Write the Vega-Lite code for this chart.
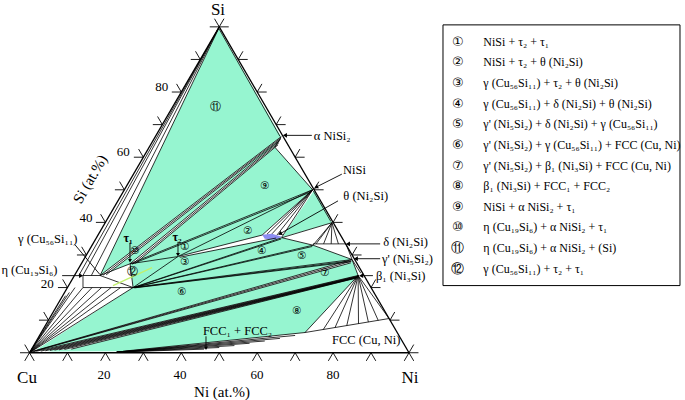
{
"$schema": "https://vega.github.io/schema/vega-lite/v6.json",
"width": 685, "height": 400, "padding": 0,
"autosize": {"type": "fit", "contains": "padding"},
"config": {"view": {"stroke": null}},
"datasets": {
"poly": [
{"id":"top","t":"g","k":0,"x":49.9,"y":99.6},{"id":"top","t":"g","k":1,"x":66.3,"y":66.3},{"id":"top","t":"g","k":2,"x":64.7,"y":63.0},{"id":"top","t":"g","k":3,"x":74.6,"y":50.0},{"id":"top","t":"g","k":4,"x":26.5,"y":27.3},{"id":"top","t":"g","k":5,"x":18.6,"y":23.7},
{"id":"mid","t":"g","k":0,"x":26.5,"y":27.3},{"id":"mid","t":"g","k":1,"x":74.6,"y":50.0},{"id":"mid","t":"g","k":2,"x":61.3,"y":36.1},{"id":"mid","t":"g","k":3,"x":66.5,"y":35.3},{"id":"mid","t":"g","k":4,"x":74.7,"y":33.0},{"id":"mid","t":"g","k":5,"x":85.0,"y":28.6},{"id":"mid","t":"g","k":6,"x":27.3,"y":20.0},
{"id":"ntri","t":"g","k":0,"x":75.0,"y":49.8},{"id":"ntri","t":"g","k":1,"x":66.5,"y":35.4},{"id":"ntri","t":"g","k":2,"x":79.7,"y":39.9},
{"id":"low","t":"g","k":0,"x":1.8,"y":0.9},{"id":"low","t":"g","k":1,"x":27.3,"y":20.0},{"id":"low","t":"g","k":2,"x":85.0,"y":28.6},{"id":"low","t":"g","k":3,"x":86.6,"y":23.7},{"id":"low","t":"g","k":4,"x":72.6,"y":6.2},{"id":"low","t":"g","k":5,"x":24.64,"y":0.46},{"id":"low","t":"g","k":6,"x":6.0,"y":0.4},
{"id":"b1","t":"w","k":0,"x":66.3,"y":66.3},{"id":"b1","t":"w","k":1,"x":18.6,"y":23.7},{"id":"b1","t":"w","k":2,"x":20.2,"y":23.9},{"id":"b1","t":"w","k":3,"x":66.2,"y":65.5},
{"id":"b2","t":"w","k":0,"x":65.9,"y":65.0},{"id":"b2","t":"w","k":1,"x":26.5,"y":27.3},{"id":"b2","t":"w","k":2,"x":27.9,"y":27.4},{"id":"b2","t":"w","k":3,"x":65.5,"y":63.8},
{"id":"w1","t":"w","k":0,"x":39.4,"y":29.6},{"id":"w1","t":"w","k":1,"x":61.3,"y":36.1},{"id":"w1","t":"w","k":2,"x":65.0,"y":35.2},{"id":"w1","t":"w","k":3,"x":39.6,"y":29.3},
{"id":"nf","t":"w","k":0,"x":74.6,"y":50.0},{"id":"nf","t":"w","k":1,"x":61.3,"y":36.1},{"id":"nf","t":"w","k":2,"x":66.5,"y":35.4},
{"id":"ba","t":"w","k":0,"x":0.6,"y":0.35},{"id":"ba","t":"w","k":1,"x":84.9,"y":28.6},{"id":"ba","t":"w","k":2,"x":84.7,"y":27.6},{"id":"ba","t":"w","k":3,"x":1.2,"y":0.4},
{"id":"bb","t":"w","k":0,"x":1.8,"y":0.45},{"id":"bb","t":"w","k":1,"x":86.6,"y":23.7},{"id":"bb","t":"w","k":2,"x":86.1,"y":22.9},{"id":"bb","t":"w","k":3,"x":11.0,"y":1.1},
{"id":"lens","t":"b","k":0,"x":61.3,"y":36.2},{"id":"lens","t":"b","k":1,"x":63.9,"y":36.5},{"id":"lens","t":"b","k":2,"x":66.5,"y":35.6},{"id":"lens","t":"b","k":3,"x":64.7,"y":34.7},{"id":"lens","t":"b","k":4,"x":62.0,"y":35.0}
],
"seg": [
{"k":"e","x":0,"y":0,"x2":100,"y2":0},{"k":"e","x":100,"y":0,"x2":50,"y2":100},{"k":"e","x":50,"y":100,"x2":0,"y2":0},
{"k":"t","x":50,"y":100,"x2":13.0,"y2":23.7},{"k":"t","x":50,"y":100,"x2":14.1,"y2":23.7},{"k":"t","x":50,"y":100,"x2":16.3,"y2":23.7},{"k":"t","x":49.9,"y":99.6,"x2":18.6,"y2":23.7},
{"k":"t","x":14.1,"y":23.7,"x2":18.6,"y2":23.7},{"k":"t","x":14.1,"y":23.7,"x2":14.1,"y2":20.0},{"k":"t","x":14.1,"y":20.0,"x2":27.3,"y2":20.0},{"k":"t","x":18.6,"y":23.7,"x2":27.3,"y2":20.0},
{"k":"t","x":0,"y":0,"x2":9.5,"y2":17.5},{"k":"t","x":0,"y":0,"x2":10.5,"y2":18.5},{"k":"t","x":0,"y":0,"x2":12.0,"y2":20.0},{"k":"t","x":0,"y":0,"x2":14.1,"y2":20.0},{"k":"t","x":0,"y":0,"x2":16.5,"y2":20.0},{"k":"t","x":0,"y":0,"x2":19.0,"y2":20.0},{"k":"t","x":0,"y":0,"x2":21.5,"y2":20.0},{"k":"t","x":0,"y":0,"x2":24.0,"y2":20.0},{"k":"t","x":0,"y":0,"x2":27.3,"y2":20.0},
{"k":"t","x":0.6,"y":0.35,"x2":84.9,"y2":28.6},{"k":"t","x":0.9,"y":0.37,"x2":84.8,"y2":28.1},{"k":"t","x":1.2,"y":0.4,"x2":84.7,"y2":27.6},
{"k":"t","x":1.8,"y":0.45,"x2":86.6,"y2":23.7},{"k":"t","x":3.0,"y":0.5,"x2":86.55,"y2":23.55},{"k":"t","x":4.2,"y":0.6,"x2":86.5,"y2":23.4},{"k":"t","x":5.4,"y":0.7,"x2":86.45,"y2":23.3},{"k":"t","x":6.6,"y":0.8,"x2":86.4,"y2":23.2},{"k":"t","x":7.8,"y":0.9,"x2":86.3,"y2":23.1},{"k":"t","x":9.2,"y":1.0,"x2":86.2,"y2":23.0},{"k":"t","x":11.0,"y":1.1,"x2":86.1,"y2":22.9},
{"k":"t","x":24.64,"y":0.46,"x2":72.6,"y2":6.2},{"k":"t","x":23,"y":0.2,"x2":70,"y2":5.3},{"k":"t","x":23,"y":0.2,"x2":66,"y2":4.4},{"k":"t","x":23,"y":0.2,"x2":62,"y2":3.6},{"k":"t","x":23,"y":0.2,"x2":58,"y2":2.9},{"k":"t","x":23,"y":0.2,"x2":54,"y2":2.2},{"k":"t","x":23,"y":0.2,"x2":50,"y2":1.6},{"k":"t","x":23,"y":0.2,"x2":46,"y2":1.1},
{"k":"t","x":86.6,"y":23.7,"x2":72.6,"y2":6.2},{"k":"t","x":86.6,"y":23.7,"x2":77.4,"y2":7.1},{"k":"t","x":86.6,"y":23.7,"x2":80.5,"y2":7.7},{"k":"t","x":86.6,"y":23.7,"x2":83.6,"y2":8.3},{"k":"t","x":86.6,"y":23.7,"x2":86.7,"y2":8.9},{"k":"t","x":86.6,"y":23.7,"x2":89.3,"y2":9.4},{"k":"t","x":86.6,"y":23.7,"x2":91.9,"y2":9.9},{"k":"t","x":86.6,"y":23.7,"x2":94.75,"y2":10.5},
{"k":"t","x":72.6,"y":6.2,"x2":94.75,"y2":10.5},{"k":"t","x":85.0,"y":28.6,"x2":86.6,"y2":23.7},{"k":"t","x":85.0,"y":28.6,"x2":87.3,"y2":24.4},
{"k":"t","x":74.6,"y":50.0,"x2":26.5,"y2":27.3},{"k":"t","x":74.3,"y":49.4,"x2":27.0,"y2":27.2},{"k":"t","x":74.6,"y":50.0,"x2":39.1,"y2":29.5},{"k":"t","x":26.5,"y":27.3,"x2":39.1,"y2":29.5},{"k":"t","x":26.5,"y":27.3,"x2":18.6,"y2":23.7},{"k":"t","x":26.5,"y":27.3,"x2":27.3,"y2":20.0},{"k":"t","x":39.1,"y":29.5,"x2":27.3,"y2":20.0},
{"k":"t","x":39.4,"y":29.6,"x2":61.3,"y2":36.1},{"k":"t","x":39.6,"y":29.3,"x2":65.0,"y2":35.2},
{"k":"t","x":27.3,"y":20.0,"x2":66.5,"y2":35.3},{"k":"t","x":27.5,"y":20.0,"x2":66.3,"y2":34.9},{"k":"t","x":27.3,"y":20.0,"x2":74.7,"y2":33.0},{"k":"t","x":27.5,"y":20.0,"x2":74.5,"y2":32.6},
{"k":"t","x":27.3,"y":20.0,"x2":85.0,"y2":28.6},{"k":"t","x":27.5,"y":19.95,"x2":84.8,"y2":28.2},{"k":"t","x":27.7,"y":19.9,"x2":84.6,"y2":27.9},
{"k":"t","x":74.7,"y":33.0,"x2":85.0,"y2":28.6},{"k":"t","x":83.4,"y":33.4,"x2":85.0,"y2":28.6},{"k":"t","x":74.7,"y":33.4,"x2":83.4,"y2":33.4},
{"k":"t","x":79.7,"y":39.9,"x2":75.5,"y2":33.4},{"k":"t","x":79.7,"y":39.9,"x2":77.5,"y2":33.4},{"k":"t","x":79.7,"y":39.9,"x2":79.5,"y2":33.4},{"k":"t","x":79.7,"y":39.9,"x2":81.4,"y2":33.4},{"k":"t","x":79.7,"y":39.9,"x2":66.5,"y2":35.3},{"k":"t","x":79.7,"y":39.9,"x2":74.7,"y2":33.0},{"k":"t","x":66.5,"y":35.3,"x2":74.7,"y2":33.0},
{"k":"t","x":74.6,"y":50.0,"x2":61.3,"y2":36.1},{"k":"t","x":74.6,"y":50.0,"x2":62.6,"y2":36.4},{"k":"t","x":74.6,"y":50.0,"x2":63.9,"y2":36.5},{"k":"t","x":74.6,"y":50.0,"x2":65.2,"y2":36.1},{"k":"t","x":74.6,"y":50.0,"x2":66.5,"y2":35.5},{"k":"t","x":74.8,"y":49.6,"x2":79.4,"y2":40.3},
{"k":"t","x":66.3,"y":66.3,"x2":18.6,"y2":23.7},{"k":"t","x":66.25,"y":65.9,"x2":19.4,"y2":23.8},{"k":"t","x":66.2,"y":65.5,"x2":20.2,"y2":23.9},{"k":"t","x":65.9,"y":65.0,"x2":26.5,"y2":27.3},{"k":"t","x":65.7,"y":64.4,"x2":27.2,"y2":27.3},{"k":"t","x":65.5,"y":63.8,"x2":27.9,"y2":27.4},
{"k":"t","x":66.3,"y":66.3,"x2":64.7,"y2":63.0},{"k":"t","x":64.7,"y":63.0,"x2":74.6,"y2":50.0},{"k":"t","x":50.0,"y":99.3,"x2":66.0,"y2":66.4},
{"k":"h","x":22.0,"y":20.6,"x2":32.3,"y2":26.1},
{"k":"k","x":0,"y":0,"x2":-1.25,"y2":-2.5},{"k":"k","x":0,"y":0,"x2":1.25,"y2":-2.5},
{"k":"k","x":10,"y":0,"x2":8.75,"y2":-2.5},{"k":"k","x":10,"y":0,"x2":11.25,"y2":-2.5},
{"k":"k","x":20,"y":0,"x2":18.75,"y2":-2.5},{"k":"k","x":20,"y":0,"x2":21.25,"y2":-2.5},
{"k":"k","x":30,"y":0,"x2":28.75,"y2":-2.5},{"k":"k","x":30,"y":0,"x2":31.25,"y2":-2.5},
{"k":"k","x":40,"y":0,"x2":38.75,"y2":-2.5},{"k":"k","x":40,"y":0,"x2":41.25,"y2":-2.5},
{"k":"k","x":50,"y":0,"x2":48.75,"y2":-2.5},{"k":"k","x":50,"y":0,"x2":51.25,"y2":-2.5},
{"k":"k","x":60,"y":0,"x2":58.75,"y2":-2.5},{"k":"k","x":60,"y":0,"x2":61.25,"y2":-2.5},
{"k":"k","x":70,"y":0,"x2":68.75,"y2":-2.5},{"k":"k","x":70,"y":0,"x2":71.25,"y2":-2.5},
{"k":"k","x":80,"y":0,"x2":78.75,"y2":-2.5},{"k":"k","x":80,"y":0,"x2":81.25,"y2":-2.5},
{"k":"k","x":90,"y":0,"x2":88.75,"y2":-2.5},{"k":"k","x":90,"y":0,"x2":91.25,"y2":-2.5},
{"k":"k","x":100,"y":0,"x2":98.75,"y2":-2.5},{"k":"k","x":100,"y":0,"x2":101.25,"y2":-2.5},
{"k":"k","x":0,"y":0,"x2":-2.5,"y2":0},{"k":"k","x":0,"y":0,"x2":-1.25,"y2":2.5},
{"k":"k","x":5,"y":10,"x2":2.5,"y2":10},{"k":"k","x":5,"y":10,"x2":3.75,"y2":12.5},
{"k":"k","x":10,"y":20,"x2":7.5,"y2":20},{"k":"k","x":10,"y":20,"x2":8.75,"y2":22.5},
{"k":"k","x":15,"y":30,"x2":12.5,"y2":30},{"k":"k","x":15,"y":30,"x2":13.75,"y2":32.5},
{"k":"k","x":20,"y":40,"x2":17.5,"y2":40},{"k":"k","x":20,"y":40,"x2":18.75,"y2":42.5},
{"k":"k","x":25,"y":50,"x2":22.5,"y2":50},{"k":"k","x":25,"y":50,"x2":23.75,"y2":52.5},
{"k":"k","x":30,"y":60,"x2":27.5,"y2":60},{"k":"k","x":30,"y":60,"x2":28.75,"y2":62.5},
{"k":"k","x":35,"y":70,"x2":32.5,"y2":70},{"k":"k","x":35,"y":70,"x2":33.75,"y2":72.5},
{"k":"k","x":40,"y":80,"x2":37.5,"y2":80},{"k":"k","x":40,"y":80,"x2":38.75,"y2":82.5},
{"k":"k","x":45,"y":90,"x2":42.5,"y2":90},{"k":"k","x":45,"y":90,"x2":43.75,"y2":92.5},
{"k":"k","x":50,"y":100,"x2":47.5,"y2":100},{"k":"k","x":50,"y":100,"x2":48.75,"y2":102.5},
{"k":"k","x":100,"y":0,"x2":102.5,"y2":0},{"k":"k","x":100,"y":0,"x2":101.25,"y2":2.5},
{"k":"k","x":95,"y":10,"x2":97.5,"y2":10},{"k":"k","x":95,"y":10,"x2":96.25,"y2":12.5},
{"k":"k","x":90,"y":20,"x2":92.5,"y2":20},{"k":"k","x":90,"y":20,"x2":91.25,"y2":22.5},
{"k":"k","x":85,"y":30,"x2":87.5,"y2":30},{"k":"k","x":85,"y":30,"x2":86.25,"y2":32.5},
{"k":"k","x":80,"y":40,"x2":82.5,"y2":40},{"k":"k","x":80,"y":40,"x2":81.25,"y2":42.5},
{"k":"k","x":75,"y":50,"x2":77.5,"y2":50},{"k":"k","x":75,"y":50,"x2":76.25,"y2":52.5},
{"k":"k","x":70,"y":60,"x2":72.5,"y2":60},{"k":"k","x":70,"y":60,"x2":71.25,"y2":62.5},
{"k":"k","x":65,"y":70,"x2":67.5,"y2":70},{"k":"k","x":65,"y":70,"x2":66.25,"y2":72.5},
{"k":"k","x":60,"y":80,"x2":62.5,"y2":80},{"k":"k","x":60,"y":80,"x2":61.25,"y2":82.5},
{"k":"k","x":55,"y":90,"x2":57.5,"y2":90},{"k":"k","x":55,"y":90,"x2":56.25,"y2":92.5},
{"k":"k","x":50,"y":100,"x2":52.5,"y2":100},{"k":"k","x":50,"y":100,"x2":51.25,"y2":102.5}
],
"arrow": [
{"h":"l","x":74.4,"y":66.7,"x2":67.3,"y2":66.7},
{"h":"d","x":82.3,"y":54.8,"x2":75.5,"y2":50.8},
{"h":"d","x":81.3,"y":46.6,"x2":66.0,"y2":36.5},
{"h":"l","x":92.4,"y":33.4,"x2":83.9,"y2":33.4},
{"h":"l","x":92.4,"y":28.85,"x2":86.0,"y2":28.85},
{"h":"l","x":90.5,"y":23.66,"x2":87.4,"y2":23.66},
{"h":"r","x":8.6,"y":23.66,"x2":13.6,"y2":23.66},
{"h":"n","x":11.99,"y":33.13,"x2":18.58,"y2":23.97},
{"h":"v","x":26.48,"y":33.74,"x2":26.48,"y2":28.24},
{"h":"v","x":39.13,"y":34.05,"x2":39.13,"y2":30.08},
{"h":"v","x":46.51,"y":5.04,"x2":46.51,"y2":1.37}
],
"lab": [
{"k":"corner","x":49.67,"y":105.3,"t":"Si"},{"k":"corner","x":-0.66,"y":-7.79,"t":"Cu"},{"k":"corner","x":100.26,"y":-7.79,"t":"Ni"},
{"k":"num","x":34.83,"y":81.6,"t":"80"},{"k":"num","x":24.72,"y":61.62,"t":"60"},{"k":"num","x":14.89,"y":41.28,"t":"40"},{"k":"num","x":4.69,"y":21.22,"t":"20"},
{"k":"num","x":19.63,"y":-6.87,"t":"20"},{"k":"num","x":39.66,"y":-6.87,"t":"40"},{"k":"num","x":59.95,"y":-6.87,"t":"60"},{"k":"num","x":79.97,"y":-6.87,"t":"80"},
{"k":"ttl","x":50.73,"y":-11.9,"t":"Ni (at.%)"},
{"k":"rot","x":15.94,"y":53.28,"t":"Si (at.%)"},
{"k":"phase","x":74.9,"y":66.4,"t":"α NiSi₂"},
{"k":"phase","x":82.6,"y":56.0,"t":"NiSi"},
{"k":"phase","x":82.7,"y":48.1,"t":"θ (Ni₂Si)"},
{"k":"phase","x":93.2,"y":34.05,"t":"δ (Ni₂Si)"},
{"k":"phase","x":92.9,"y":28.85,"t":"γ' (Ni₅Si₂)"},
{"k":"phase","x":91.3,"y":23.66,"t":"β₁ (Ni₃Si)"},
{"k":"phase","x":79.7,"y":3.82,"t":"FCC (Cu, Ni)"},
{"k":"phase","x":45.7,"y":6.56,"t":"FCC₁ + FCC₂"},
{"k":"phase","x":-3.03,"y":34.96,"t":"γ (Cu₅₆Si₁₁)"},
{"k":"phase","x":-7.4,"y":25.5,"t":"η (Cu₁₉Si₆)"},
{"k":"tau","x":25.96,"y":35.27,"t":"τ₁"},{"k":"tau","x":38.87,"y":35.57,"t":"τ₂"},
{"k":"circ","x":49.14,"y":75.27,"t":"⑪"},{"k":"circ","x":62.05,"y":51.15,"t":"⑨"},{"k":"circ","x":27.8,"y":31.3,"t":"⑩"},{"k":"circ","x":40.97,"y":32.3,"t":"①"},{"k":"circ","x":40.97,"y":27.9,"t":"③"},{"k":"circ","x":27.27,"y":24.89,"t":"⑫"},{"k":"circ","x":57.58,"y":37.4,"t":"②"},{"k":"circ","x":61.26,"y":31.3,"t":"④"},{"k":"circ","x":71.81,"y":29.77,"t":"⑤"},{"k":"circ","x":40.18,"y":18.78,"t":"⑥"},{"k":"circ","x":77.87,"y":24.58,"t":"⑦"},{"k":"circ","x":70.49,"y":12.67,"t":"⑧"}
],
"leg": [
{"n":1,"c":"①","t":"NiSi + τ₂ + τ₁"},
{"n":2,"c":"②","t":"NiSi + τ₂ + θ (Ni₂Si)"},
{"n":3,"c":"③","t":"γ (Cu₅₆Si₁₁) + τ₂ + θ (Ni₂Si)"},
{"n":4,"c":"④","t":"γ (Cu₅₆Si₁₁) + δ (Ni₂Si)  + θ (Ni₂Si)"},
{"n":5,"c":"⑤","t":"γ' (Ni₅Si₂) + δ (Ni₂Si)  + γ (Cu₅₆Si₁₁)"},
{"n":6,"c":"⑥","t":"γ' (Ni₅Si₂) + γ (Cu₅₆Si₁₁) + FCC (Cu, Ni)"},
{"n":7,"c":"⑦","t":"γ' (Ni₅Si₂) + β₁ (Ni₃Si)  + FCC (Cu, Ni)"},
{"n":8,"c":"⑧","t":"β₁ (Ni₃Si)  + FCC₁ + FCC₂"},
{"n":9,"c":"⑨","t":"NiSi + α NiSi₂ + τ₁"},
{"n":10,"c":"⑩","t":"η (Cu₁₉Si₆) + α NiSi₂ + τ₁"},
{"n":11,"c":"⑪","t":"η (Cu₁₉Si₆) + α NiSi₂ + (Si)"},
{"n":12,"c":"⑫","t":"γ (Cu₅₆Si₁₁) + τ₂ + τ₁"}
]
},
"layer": [
{
"layer": [
{"data":{"name":"poly"},"transform":[{"filter":"datum.t==='g'"}],"mark":{"type":"line","fill":"#96f5d0","strokeWidth":0,"strokeOpacity":0},
 "encoding":{"x":{"field":"x","type":"quantitative","scale":{"domain":[-7.77,172.73],"nice":false,"zero":false},"axis":null},"y":{"field":"y","type":"quantitative","scale":{"domain":[-13.89,108.24],"nice":false,"zero":false},"axis":null},"detail":{"field":"id"},"order":{"field":"k"}}},
{"data":{"name":"poly"},"transform":[{"filter":"datum.t==='w'"}],"mark":{"type":"line","fill":"#ffffff","strokeWidth":0,"strokeOpacity":0},
 "encoding":{"x":{"field":"x","type":"quantitative","scale":{"domain":[-7.77,172.73],"nice":false,"zero":false},"axis":null},"y":{"field":"y","type":"quantitative","scale":{"domain":[-13.89,108.24],"nice":false,"zero":false},"axis":null},"detail":{"field":"id"},"order":{"field":"k"}}},
{"data":{"name":"poly"},"transform":[{"filter":"datum.t==='b'"}],"mark":{"type":"line","fill":"#8c8cf2","strokeWidth":0,"strokeOpacity":0},
 "encoding":{"x":{"field":"x","type":"quantitative","scale":{"domain":[-7.77,172.73],"nice":false,"zero":false},"axis":null},"y":{"field":"y","type":"quantitative","scale":{"domain":[-13.89,108.24],"nice":false,"zero":false},"axis":null},"detail":{"field":"id"},"order":{"field":"k"}}},
{"data":{"name":"seg"},"transform":[{"filter":"datum.k==='t'"}],"mark":{"type":"rule","color":"#000","strokeWidth":0.8},
 "encoding":{"x":{"field":"x","type":"quantitative","scale":{"domain":[-7.77,172.73],"nice":false,"zero":false},"axis":null},"y":{"field":"y","type":"quantitative","scale":{"domain":[-13.89,108.24],"nice":false,"zero":false},"axis":null},"x2":{"field":"x2"},"y2":{"field":"y2"}}},
{"data":{"name":"seg"},"transform":[{"filter":"datum.k==='h'"}],"mark":{"type":"rule","color":"#c2f06c","strokeWidth":1.3},
 "encoding":{"x":{"field":"x","type":"quantitative","scale":{"domain":[-7.77,172.73],"nice":false,"zero":false},"axis":null},"y":{"field":"y","type":"quantitative","scale":{"domain":[-13.89,108.24],"nice":false,"zero":false},"axis":null},"x2":{"field":"x2"},"y2":{"field":"y2"}}},
{"data":{"name":"seg"},"transform":[{"filter":"datum.k==='e'"}],"mark":{"type":"rule","color":"#000","strokeWidth":1.3},
 "encoding":{"x":{"field":"x","type":"quantitative","scale":{"domain":[-7.77,172.73],"nice":false,"zero":false},"axis":null},"y":{"field":"y","type":"quantitative","scale":{"domain":[-13.89,108.24],"nice":false,"zero":false},"axis":null},"x2":{"field":"x2"},"y2":{"field":"y2"}}},
{"data":{"name":"seg"},"transform":[{"filter":"datum.k==='k'"}],"mark":{"type":"rule","color":"#000","strokeWidth":0.9},
 "encoding":{"x":{"field":"x","type":"quantitative","scale":{"domain":[-7.77,172.73],"nice":false,"zero":false},"axis":null},"y":{"field":"y","type":"quantitative","scale":{"domain":[-13.89,108.24],"nice":false,"zero":false},"axis":null},"x2":{"field":"x2"},"y2":{"field":"y2"}}},
{"data":{"name":"arrow"},"mark":{"type":"rule","color":"#000","strokeWidth":0.9},
 "encoding":{"x":{"field":"x","type":"quantitative","scale":{"domain":[-7.77,172.73],"nice":false,"zero":false},"axis":null},"y":{"field":"y","type":"quantitative","scale":{"domain":[-13.89,108.24],"nice":false,"zero":false},"axis":null},"x2":{"field":"x2"},"y2":{"field":"y2"}}},
{"data":{"name":"arrow"},"transform":[{"filter":"datum.h==='l'"}],"mark":{"type":"point","shape":"triangle-left","filled":true,"color":"#000","size":22,"opacity":1},
 "encoding":{"x":{"field":"x2","type":"quantitative","scale":{"domain":[-7.77,172.73],"nice":false,"zero":false},"axis":null},"y":{"field":"y2","type":"quantitative","scale":{"domain":[-13.89,108.24],"nice":false,"zero":false},"axis":null}}},
{"data":{"name":"arrow"},"transform":[{"filter":"datum.h==='r'"}],"mark":{"type":"point","shape":"triangle-right","filled":true,"color":"#000","size":22,"opacity":1},
 "encoding":{"x":{"field":"x2","type":"quantitative","scale":{"domain":[-7.77,172.73],"nice":false,"zero":false},"axis":null},"y":{"field":"y2","type":"quantitative","scale":{"domain":[-13.89,108.24],"nice":false,"zero":false},"axis":null}}},
{"data":{"name":"arrow"},"transform":[{"filter":"datum.h==='v'"}],"mark":{"type":"point","shape":"triangle-down","filled":true,"color":"#000","size":16,"opacity":1},
 "encoding":{"x":{"field":"x2","type":"quantitative","scale":{"domain":[-7.77,172.73],"nice":false,"zero":false},"axis":null},"y":{"field":"y2","type":"quantitative","scale":{"domain":[-13.89,108.24],"nice":false,"zero":false},"axis":null}}},
{"data":{"name":"arrow"},"transform":[{"filter":"datum.h==='d'"}],"mark":{"type":"point","shape":"triangle-left","angle":332,"filled":true,"color":"#000","size":22,"opacity":1},
 "encoding":{"x":{"field":"x2","type":"quantitative","scale":{"domain":[-7.77,172.73],"nice":false,"zero":false},"axis":null},"y":{"field":"y2","type":"quantitative","scale":{"domain":[-13.89,108.24],"nice":false,"zero":false},"axis":null}}},
{"data":{"name":"lab"},"transform":[{"filter":"datum.k==='corner'"}],"mark":{"type":"text","font":"Liberation Serif","fontSize":17,"align":"center","baseline":"middle","color":"#000"},
 "encoding":{"x":{"field":"x","type":"quantitative","scale":{"domain":[-7.77,172.73],"nice":false,"zero":false},"axis":null},"y":{"field":"y","type":"quantitative","scale":{"domain":[-13.89,108.24],"nice":false,"zero":false},"axis":null},"text":{"field":"t"}}},
{"data":{"name":"lab"},"transform":[{"filter":"datum.k==='num'"}],"mark":{"type":"text","font":"Liberation Serif","fontSize":13,"align":"center","baseline":"middle","color":"#000"},
 "encoding":{"x":{"field":"x","type":"quantitative","scale":{"domain":[-7.77,172.73],"nice":false,"zero":false},"axis":null},"y":{"field":"y","type":"quantitative","scale":{"domain":[-13.89,108.24],"nice":false,"zero":false},"axis":null},"text":{"field":"t"}}},
{"data":{"name":"lab"},"transform":[{"filter":"datum.k==='ttl'"}],"mark":{"type":"text","font":"Liberation Serif","fontSize":15,"align":"center","baseline":"middle","color":"#000"},
 "encoding":{"x":{"field":"x","type":"quantitative","scale":{"domain":[-7.77,172.73],"nice":false,"zero":false},"axis":null},"y":{"field":"y","type":"quantitative","scale":{"domain":[-13.89,108.24],"nice":false,"zero":false},"axis":null},"text":{"field":"t"}}},
{"data":{"name":"lab"},"transform":[{"filter":"datum.k==='rot'"}],"mark":{"type":"text","font":"Liberation Serif","fontSize":15,"align":"center","baseline":"middle","angle":300,"color":"#000"},
 "encoding":{"x":{"field":"x","type":"quantitative","scale":{"domain":[-7.77,172.73],"nice":false,"zero":false},"axis":null},"y":{"field":"y","type":"quantitative","scale":{"domain":[-13.89,108.24],"nice":false,"zero":false},"axis":null},"text":{"field":"t"}}},
{"data":{"name":"lab"},"transform":[{"filter":"datum.k==='phase'"}],"mark":{"type":"text","font":"Liberation Serif, DejaVu Serif","fontSize":12.5,"align":"left","baseline":"middle","color":"#000"},
 "encoding":{"x":{"field":"x","type":"quantitative","scale":{"domain":[-7.77,172.73],"nice":false,"zero":false},"axis":null},"y":{"field":"y","type":"quantitative","scale":{"domain":[-13.89,108.24],"nice":false,"zero":false},"axis":null},"text":{"field":"t"}}},
{"data":{"name":"lab"},"transform":[{"filter":"datum.k==='tau'"}],"mark":{"type":"text","font":"Liberation Serif, DejaVu Serif","fontSize":12,"fontWeight":"bold","align":"center","baseline":"middle","color":"#000"},
 "encoding":{"x":{"field":"x","type":"quantitative","scale":{"domain":[-7.77,172.73],"nice":false,"zero":false},"axis":null},"y":{"field":"y","type":"quantitative","scale":{"domain":[-13.89,108.24],"nice":false,"zero":false},"axis":null},"text":{"field":"t"}}},
{"data":{"name":"lab"},"transform":[{"filter":"datum.k==='circ'"}],"mark":{"type":"text","font":"DejaVu Sans","fontSize":10.5,"align":"center","baseline":"middle","color":"#000"},
 "encoding":{"x":{"field":"x","type":"quantitative","scale":{"domain":[-7.77,172.73],"nice":false,"zero":false},"axis":null},"y":{"field":"y","type":"quantitative","scale":{"domain":[-13.89,108.24],"nice":false,"zero":false},"axis":null},"text":{"field":"t"}}}
]
},
{
"layer": [
{"data":{"values":[{}]},"mark":{"type":"rect","filled":false,"stroke":"#000","strokeWidth":1},
 "encoding":{"x":{"datum":108.96,"type":"quantitative","scale":{"domain":[-7.77,172.73],"nice":false,"zero":false},"axis":null},"x2":{"datum":171.41},"y":{"datum":0.18,"type":"quantitative","scale":{"domain":[-1.026,18.27],"nice":false,"zero":false,"reverse":true},"axis":null},"y2":{"datum":12.82}}},
{"data":{"name":"leg"},"mark":{"type":"text","font":"DejaVu Sans","fontSize":13,"align":"center","baseline":"middle","color":"#000"},
 "encoding":{"x":{"datum":112.9,"type":"quantitative","scale":{"domain":[-7.77,172.73],"nice":false,"zero":false},"axis":null},"y":{"field":"n","type":"quantitative","scale":{"domain":[-1.026,18.27],"nice":false,"zero":false,"reverse":true},"axis":null},"text":{"field":"c"}}},
{"data":{"name":"leg"},"mark":{"type":"text","font":"Liberation Serif, DejaVu Serif","fontSize":12,"align":"left","baseline":"middle","color":"#000"},
 "encoding":{"x":{"datum":119.6,"type":"quantitative","scale":{"domain":[-7.77,172.73],"nice":false,"zero":false},"axis":null},"y":{"field":"n","type":"quantitative","scale":{"domain":[-1.026,18.27],"nice":false,"zero":false,"reverse":true},"axis":null},"text":{"field":"t"}}}
]
}
],
"resolve": {"scale": {"y": "independent"}}
}
